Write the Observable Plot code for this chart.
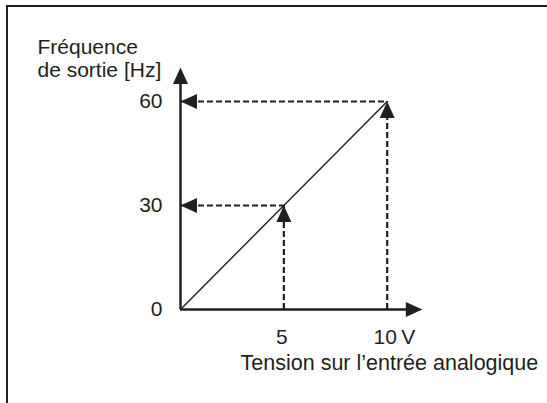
<!DOCTYPE html>
<html>
<head>
<meta charset="utf-8">
<script src="https://cdn.jsdelivr.net/npm/d3@7"></script>
<script src="https://cdn.jsdelivr.net/npm/@observablehq/plot@0.6"></script>
<style>
  html, body { margin: 0; padding: 0; background: #fff; }
  #wrap { position: relative; width: 547px; height: 403px; overflow: hidden; }
  #border { position: absolute; left: 6px; top: 5px; width: 560px; height: 420px;
            border-left: 2px solid #231f20; border-top: 2px solid #231f20; box-sizing: border-box; }
  #chart { position: absolute; left: 0; top: 0; }
</style>
</head>
<body>
<div id="wrap"><div id="border"></div><div id="chart"></div></div>
<script>
// Data
const voltage = [0, 10];            // V
const frequency = [0, 60];          // Hz
const guideVoltage = [5, 10];
const guideFreq = [30, 60];
const xTicks = [5, 10];
const xTickLabels = ["5", "10"];
const xUnit = "V";
const yTicks = [0, 30, 60];
const yTickLabels = ["0", "30", "60"];
const xTitle = "Tension sur l\u2019entrée analogique";
const yTitle = "Fréquence\nde sortie [Hz]";
const xAxisEnd = 11.7;   // arrow tip of the x axis (in V)
const yAxisEnd = 69.8;   // arrow tip of the y axis (in Hz)

const ink = "#231f20";
const font = "Liberation Sans, Arial, Helvetica, sans-serif";

const line = voltage.map((v, i) => ({v, f: frequency[i]}));
const guides = guideVoltage.map((v, i) => ({v, f: guideFreq[i]}));

// filled arrowhead with its tip at the origin, pointing up
const arrowHead = {
  draw(ctx) {
    ctx.moveTo(0, 0);
    ctx.lineTo(7.5, 16.5);
    ctx.lineTo(-7.5, 16.5);
    ctx.closePath();
  }
};

const heads = [
  {v: xAxisEnd, f: 0, r: 90},
  {v: 0, f: yAxisEnd, r: 0},
  ...guides.map(d => ({v: 0, f: d.f, r: -90})),
  ...guides.map(d => ({v: d.v, f: d.f, r: 0}))
];

const chart = Plot.plot({
  width: 547,
  height: 403,
  marginLeft: 180,
  marginRight: 160.3,
  marginTop: 101,
  marginBottom: 94,
  x: {domain: [0, 10], axis: null},
  y: {domain: [0, 60], axis: null},
  style: {fontFamily: font, fontSize: "21px", color: ink, background: "transparent", overflow: "visible"},
  marks: [
    // dashed guides
    Plot.ruleY(guides, {y: "f", x1: 0, x2: "v", stroke: ink, strokeWidth: 2.2, strokeDasharray: "6,3"}),
    Plot.ruleX(guides, {x: "v", y1: 0, y2: "f", stroke: ink, strokeWidth: 2.2, strokeDasharray: "6,3"}),
    // characteristic line
    Plot.line(line, {x: "v", y: "f", stroke: ink, strokeWidth: 1.4}),
    // axes
    Plot.ruleY([0], {x1: 0, x2: xAxisEnd - 0.5, stroke: ink, strokeWidth: 2.5}),
    Plot.ruleX([0], {y1: 0, y2: yAxisEnd - 3, stroke: ink, strokeWidth: 2.5}),
    // arrowheads
    Plot.dot(heads, {x: "v", y: "f", rotate: "r", symbol: arrowHead, fill: ink, stroke: "none"}),
    // tick labels
    Plot.text(yTicks, {x: 0, y: d => d, text: (d, i) => yTickLabels[i], textAnchor: "end", dx: -18, fontSize: 21, fill: ink}),
    Plot.text(xTicks, {x: d => d, y: 0, text: (d, i) => xTickLabels[i], dx: -2, dy: 28, fontSize: 21, fill: ink}),
    Plot.text([xUnit], {x: xTicks[xTicks.length - 1], y: 0, text: d => d, dx: 21, dy: 28, fontSize: 21, fill: ink}),
    // titles
    Plot.text([xTitle], {x: xTicks[xTicks.length - 1], y: 0, text: d => d, textAnchor: "end", dx: 151, dy: 54, fontSize: 21.5, fill: ink}),
    Plot.text([yTitle], {x: 0, y: yTicks[yTicks.length - 1], text: d => d, textAnchor: "start", lineAnchor: "top", dx: -143, dy: -63, lineHeight: 1.07, fontSize: 21, fill: ink})
  ]
});
document.getElementById("chart").appendChild(chart);
</script>
</body>
</html>
